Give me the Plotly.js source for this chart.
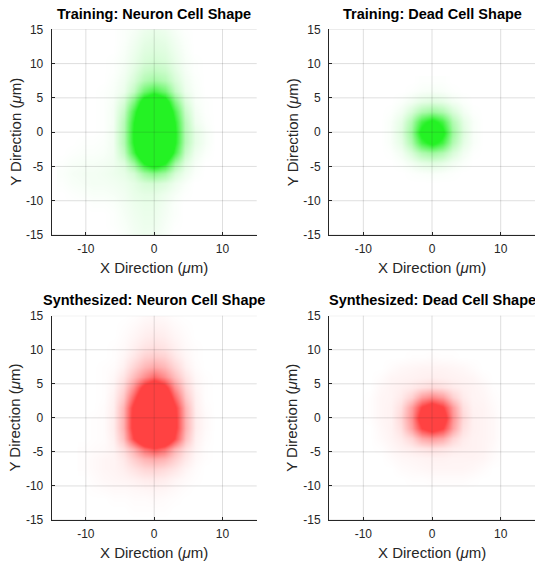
<!DOCTYPE html>
<html>
<head>
<meta charset="utf-8">
<script src="https://cdn.plot.ly/plotly-3.0.1.min.js"></script>
<style>html,body{margin:0;padding:0;background:#fff;}#chart{width:535px;height:565px;}</style>
</head>
<body>
<div id="chart"></div>
<script>
// ---- tick labels ----
const xTicks = [-10, 0, 10];
const yTicks = [-15, -10, -5, 0, 5, 10, 15];

// ---- panel titles ----
const panelTitles = ["Training: Neuron Cell Shape", "Training: Dead Cell Shape",
                     "Synthesized: Neuron Cell Shape", "Synthesized: Dead Cell Shape"];

// ---- Training: Neuron (intensity, >100 = saturated) ----
const xTrainNeuron = [-13.5,-12,-10.5,-9,-7.5,-6,-4.5,-3,-1.5,0,1.5,3,4.5,6,7.5,9];
const yTrainNeuron = [15,13.5,12,10.5,9,7.5,6,4.5,3,1.5,0,-1.5,-3,-4.5,-6,-7.5,-9,-10.5,-12,-13.5,-15];
const zTrainNeuron = [
  [0,0,0,0,0,0,2,4,8,10,8,4,1,0,0,0],
  [0,0,0,0,0,0,2,6,11,13,11,6,2,0,0,0],
  [0,0,0,0,0,0,3,8,14,16,14,8,3,0,0,0],
  [0,0,0,0,0,1,4,10,17,20,17,10,4,1,0,0],
  [0,0,0,0,0,1,5,13,24,28,24,13,5,1,0,0],
  [0,0,0,0,0,2,7,18,34,42,34,18,7,2,0,0],
  [0,0,0,0,1,3,9,28,65,85,65,28,9,3,0,0],
  [0,0,0,0,1,4,18,58,122,150,122,56,17,4,1,0],
  [0,0,0,0,1,5,26,85,150,175,150,82,25,6,1,0],
  [0,0,0,0,1,5,33,100,170,190,170,98,32,8,2,0],
  [0,0,0,0,1,6,35,105,175,195,175,104,34,12,4,0],
  [0,0,1,1,2,6,35,104,175,195,175,102,34,12,4,0],
  [0,1,2,2,3,6,28,88,160,185,160,86,26,8,2,0],
  [1,3,4,4,5,7,15,45,100,130,100,42,14,4,0,0],
  [2,4,5,5,6,8,11,20,42,55,42,19,8,2,0,0],
  [1,3,4,5,5,6,8,12,18,20,15,8,3,0,0,0],
  [0,1,2,3,3,4,6,10,12,12,8,4,1,0,0,0],
  [0,0,0,1,1,2,5,8,10,10,6,2,0,0,0,0],
  [0,0,0,0,0,1,4,7,9,9,5,2,0,0,0,0],
  [0,0,0,0,0,1,3,6,8,8,4,1,0,0,0,0],
  [0,0,0,0,0,0,2,5,7,6,3,0,0,0,0,0]
];

// ---- Training: Dead ----
const xTrainDead = [-7.5,-6,-4.5,-3,-1.5,0,1.5,3,4.5,6,7.5];
const yTrainDead = [7.5,6,4.5,3,1.5,0,-1.5,-3,-4.5,-6,-7.5];
const zTrainDead = [
  [0,0,0,0,1,1,1,0,0,0,0],
  [0,0,0,1,3,4,3,1,0,0,0],
  [0,0,2,6,12,15,12,6,2,0,0],
  [0,1,6,18,36,45,36,18,6,1,0],
  [0,3,12,36,85,112,85,36,12,3,0],
  [0,3,15,45,112,150,112,45,15,3,0],
  [0,3,12,36,85,112,85,36,12,3,0],
  [0,1,6,18,36,45,36,18,6,1,0],
  [0,0,2,6,12,15,12,6,2,0,0],
  [0,0,0,1,2,3,2,1,0,0,0],
  [0,0,0,0,0,0,0,0,0,0,0]
];

// ---- Synthesized: Neuron ----
const xSynNeuron = [-10.5,-9,-7.5,-6,-4.5,-3,-1.5,0,1.5,3,4.5,6,7.5,9];
const ySynNeuron = [15,13.5,12,10.5,9,7.5,6,4.5,3,1.5,0,-1.5,-3,-4.5,-6,-7.5,-9,-10.5,-12,-13.5,-15];
const zSynNeuron = [
  [0,0,0,0,0,1,3,4,3,1,0,0,0,0],
  [0,0,0,0,1,3,6,7,6,3,1,0,0,0],
  [0,0,0,0,2,5,9,11,9,5,2,0,0,0],
  [0,0,0,1,3,8,14,17,14,8,3,1,0,0],
  [0,0,0,1,5,13,24,28,24,13,5,1,0,0],
  [0,0,1,2,8,22,38,46,38,22,8,2,0,0],
  [0,0,1,4,14,35,60,80,60,35,14,4,1,0],
  [0,0,1,6,22,60,118,145,118,60,22,6,1,0],
  [0,0,1,8,30,85,150,175,150,85,30,8,1,0],
  [0,0,2,9,40,110,172,190,172,110,40,9,2,0],
  [0,1,2,10,42,114,178,195,178,114,42,10,3,0],
  [0,1,2,10,42,114,178,195,178,114,42,10,3,0],
  [0,1,2,8,34,98,160,180,160,98,34,8,2,0],
  [1,2,3,6,18,42,78,95,78,42,18,6,1,0],
  [1,3,5,6,12,26,40,46,40,26,12,4,1,0],
  [1,3,5,6,9,15,22,24,20,14,6,2,0,0],
  [0,2,4,5,6,8,11,12,10,6,3,1,0,0],
  [0,1,2,3,3,4,5,6,5,3,1,0,0,0],
  [0,0,0,1,1,2,2,3,2,1,0,0,0,0],
  [0,0,0,0,0,1,1,1,1,0,0,0,0,0],
  [0,0,0,0,0,0,0,0,0,0,0,0,0,0]
];

// ---- Synthesized: Dead ----
const xSynDead = [-10.5,-9,-7.5,-6,-4.5,-3,-1.5,0,1.5,3,4.5,6,7.5,9,10.5];
const ySynDead = [10.5,9,7.5,6,4.5,3,1.5,0,-1.5,-3,-4.5,-6,-7.5,-9,-10.5];
const zSynDead = [
  [0,0,0,0,0,0,0,0,0,0,0,0,0,0,0],
  [0,0,0,0,0,1,1,2,1,1,0,0,0,0,0],
  [0,0,0,2,4,5,6,6,6,5,4,2,0,0,0],
  [0,0,2,5,6,7,8,9,8,7,6,5,2,0,0],
  [0,0,4,6,8,11,16,20,16,11,8,6,4,1,0],
  [0,1,5,6,11,25,52,64,52,25,11,6,5,2,0],
  [0,1,5,7,17,52,102,125,102,52,17,7,6,3,0],
  [0,1,5,7,21,58,125,160,125,58,21,8,6,4,0],
  [0,0,4,7,17,50,100,122,100,50,17,8,6,4,0],
  [0,0,3,6,11,23,46,55,46,23,11,7,6,4,0],
  [0,0,1,4,7,10,14,17,14,10,8,7,6,3,0],
  [0,0,0,2,4,5,6,7,7,6,6,6,5,2,0],
  [0,0,0,0,2,3,4,5,5,5,5,4,2,0,0],
  [0,0,0,0,0,1,1,2,2,2,2,1,0,0,0],
  [0,0,0,0,0,0,0,0,0,0,0,0,0,0,0]
];

const greenScale = [[0,'rgba(0,240,0,0)'],[1,'rgba(0,240,0,0.86)']];
const redScale = [[0,'rgba(255,0,0,0)'],[1,'rgba(255,0,0,0.74)']];

function hm(x, y, z, cs, xa, ya) {
  return {type:'heatmap', x:x, y:y, z:z, colorscale:cs, zmin:0, zmax:100,
          zsmooth:'best', showscale:false, hoverinfo:'skip', xaxis:xa, yaxis:ya};
}

const data = [
  hm(xTrainNeuron, yTrainNeuron, zTrainNeuron, greenScale, 'x', 'y'),
  hm(xTrainDead, yTrainDead, zTrainDead, greenScale, 'x2', 'y2'),
  hm(xSynNeuron, ySynNeuron, zSynNeuron, redScale, 'x3', 'y3'),
  hm(xSynDead, ySynDead, zSynDead, redScale, 'x4', 'y4')
];

const W = 535, H = 565;
const colDom = [[51.7/W, 256.7/W], [329/W, 1]];
const rowDom = [[1-235/H, 1-29.3/H], [1-520/H, 1-315.7/H]];
const tickFont = {family:'Liberation Sans, Arial, sans-serif', size:12, color:'#262626'};

function xa(dom, anchor) {
  return {domain:dom, anchor:anchor, range:[-15,15], tickmode:'array', tickvals:xTicks,
    ticktext:xTicks.map(String),
    ticks:'inside', ticklen:3, tickcolor:'#262626', showline:true, linecolor:'#262626',
    linewidth:1, showgrid:false, zeroline:false, tickfont:tickFont, fixedrange:true,
    ticklabelstandoff:3};
}
function ya(dom, anchor) {
  return {domain:dom, anchor:anchor, range:[-15,15], tickmode:'array', tickvals:yTicks,
    ticktext:yTicks.map(String),
    ticks:'inside', ticklen:3, tickcolor:'#262626', showline:true, linecolor:'#262626',
    linewidth:1, showgrid:false, zeroline:false, tickfont:tickFont, fixedrange:true,
    ticklabelstandoff:5};
}

const panels = [
  {x:'x', y:'y', c:0, r:0}, {x:'x2', y:'y2', c:1, r:0},
  {x:'x3', y:'y3', c:0, r:1}, {x:'x4', y:'y4', c:1, r:1}
];

const layout = {
  width:W, height:H, margin:{l:0, r:0, t:0, b:0},
  paper_bgcolor:'#fff', plot_bgcolor:'#fff', showlegend:false,
  xaxis: xa(colDom[0], 'y'), yaxis: ya(rowDom[0], 'x'),
  xaxis2: xa(colDom[1], 'y2'), yaxis2: ya(rowDom[0], 'x2'),
  xaxis3: xa(colDom[0], 'y3'), yaxis3: ya(rowDom[1], 'x3'),
  xaxis4: xa(colDom[1], 'y4'), yaxis4: ya(rowDom[1], 'x4'),
  shapes: [], annotations: []
};

const gridColor = 'rgba(38,38,38,0.15)';
const titleFont = {family:'Liberation Sans, Arial, sans-serif', size:14.5, color:'#000'};
const labFont = {family:'Liberation Sans, Arial, sans-serif', size:15, color:'#262626'};

panels.forEach((p, i) => {
  xTicks.forEach(t => layout.shapes.push({type:'line', layer:'above', xref:p.x, yref:p.y + ' domain',
    x0:t, x1:t, y0:0, y1:1, line:{color:gridColor, width:1}}));
  yTicks.forEach(t => layout.shapes.push({type:'line', layer:'above', xref:p.x + ' domain', yref:p.y,
    x0:0, x1:1, y0:t, y1:t, line:{color:gridColor, width:1}}));
  const cd = colDom[p.c], rd = rowDom[p.r];
  const cx = (cd[0] + cd[1]) / 2, cy = (rd[0] + rd[1]) / 2;
  layout.annotations.push({xref:'paper', yref:'paper', x:cx, y:rd[1] + 15.5/H, xanchor:'center', yanchor:'middle',
    text:'<b>' + panelTitles[i] + '</b>', showarrow:false, font:titleFont});
  layout.annotations.push({xref:'paper', yref:'paper', x:cx, y:rd[0] - 32/H, xanchor:'center', yanchor:'middle',
    text:'X Direction (<i>μ</i>m)', showarrow:false, font:labFont});
  layout.annotations.push({xref:'paper', yref:'paper', x:cd[0] - 37/W, y:cy, xanchor:'center', yanchor:'middle',
    text:'Y Direction (<i>μ</i>m)', textangle:-90, showarrow:false, font:labFont});
});

Plotly.newPlot('chart', data, layout, {staticPlot:true, displayModeBar:false});
</script>
</body>
</html>
